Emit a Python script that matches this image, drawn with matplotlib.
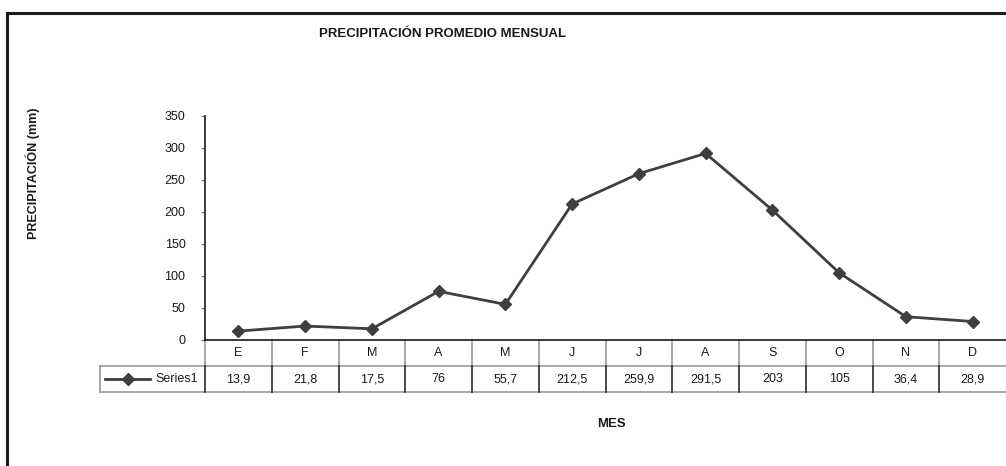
import matplotlib
matplotlib.use("Agg")
import matplotlib.pyplot as plt
from matplotlib.transforms import blended_transform_factory
from matplotlib.patches import Rectangle
from matplotlib.lines import Line2D

plt.rcParams['font.family'] = ['Liberation Sans', 'DejaVu Sans']

months = ["E", "F", "M", "A", "M", "J", "J", "A", "S", "O", "N", "D"]
values = [13.9, 21.8, 17.5, 76, 55.7, 212.5, 259.9, 291.5, 203, 105, 36.4, 28.9]
value_labels = ["13,9", "21,8", "17,5", "76", "55,7", "212,5", "259,9", "291,5", "203", "105", "36,4", "28,9"]
yticks = [0, 50, 100, 150, 200, 250, 300, 350]
series_name = "Series1"
title = "PRECIPITACIÓN PROMEDIO MENSUAL"
ylabel = "PRECIPITACIÓN (mm)"
xlabel = "MES"

W, H = 1006, 466
fig = plt.figure(figsize=(W / 100, H / 100), dpi=100)

# outer frame
fig.patches.append(Rectangle((7 / W, -0.1), 1.2, (H - 13) / H + 0.1, transform=fig.transFigure,
                             fill=False, edgecolor="#1a1a1a", linewidth=2.2))

ax_l, ax_r = 205 / W, 1006 / W
ax_b, ax_t = 1 - 340 / H, 1 - 116 / H
ax = fig.add_axes([ax_l, ax_b, ax_r - ax_l, ax_t - ax_b])
line_color = "#3f3f3f"
x = list(range(len(months)))
ax.plot(x, values, color=line_color, linewidth=2, marker="D", markersize=6.5,
        markerfacecolor=line_color, markeredgecolor=line_color, clip_on=False, zorder=5)
ax.set_xlim(-0.5, len(months) - 0.5)
ax.set_ylim(0, 350)
ax.set_yticks(yticks)
ax.set_yticklabels([str(v) for v in yticks], fontsize=9, color="#1a1a1a")
ax.tick_params(axis="y", length=3, width=1, color="#808080", pad=11)
ax.set_xticks([])
for s in ["top", "right"]:
    ax.spines[s].set_visible(False)
ax.spines["left"].set_color("#1a1a1a")
ax.spines["left"].set_linewidth(1.2)
ax.spines["bottom"].set_color("#1a1a1a")
ax.spines["bottom"].set_linewidth(1.2)

# data table below the axis
trans = blended_transform_factory(ax.transData, ax.transAxes)
axh_px = 340 - 116
row_h = 26 / axh_px
gray = "#9a9a9a"
dark = "#2a2a2a"
legend_left = (100 - 205) / (1006 - 205)  # axes fraction
ax.add_line(Line2D([legend_left, 1.0], [-row_h, -row_h], transform=ax.transAxes, color=gray, lw=1.2, clip_on=False))
ax.add_line(Line2D([legend_left, 1.0], [-2 * row_h, -2 * row_h], transform=ax.transAxes, color=gray, lw=1.2, clip_on=False))
ax.add_line(Line2D([legend_left, legend_left], [-row_h, -2 * row_h], transform=ax.transAxes, color=gray, lw=1.2, clip_on=False))
for i in range(len(months)):
    xe = i - 0.5
    ax.add_line(Line2D([xe, xe], [0, -row_h], transform=trans, color=gray, lw=1.2, clip_on=False))
    ax.add_line(Line2D([xe, xe], [-row_h, -2 * row_h], transform=trans, color=dark, lw=1.2, clip_on=False))
for i, (m, v) in enumerate(zip(months, value_labels)):
    ax.text(i, -row_h / 2, m, transform=trans, ha="center", va="center", fontsize=9, color="#1a1a1a")
    ax.text(i, -1.5 * row_h, v, transform=trans, ha="center", va="center", fontsize=9, color="#1a1a1a")

# legend key in table
lx0 = (105 - 205) / (1006 - 205)
lx1 = (150 - 205) / (1006 - 205)
ly = -1.5 * row_h
ax.add_line(Line2D([lx0, lx1], [ly, ly], transform=ax.transAxes, color=line_color, lw=2, clip_on=False))
ax.add_line(Line2D([(lx0 + lx1) / 2], [ly], transform=ax.transAxes, marker="D", markersize=6.5,
                   color=line_color, clip_on=False))
ax.text((155 - 205) / (1006 - 205), ly, series_name, transform=ax.transAxes, ha="left", va="center",
        fontsize=9, color="#1a1a1a")

fig.text(443 / W, 1 - 34 / H, title, ha="center", va="center", fontsize=9.5, fontweight="bold", color="#1a1a1a")
fig.text(33 / W, 1 - 173 / H, ylabel, ha="center", va="center", rotation=90, fontsize=9,
         fontweight="bold", color="#1a1a1a")
fig.text(611 / W, 1 - 424 / H, xlabel, ha="center", va="center", fontsize=9.5, fontweight="bold", color="#1a1a1a")

fig.savefig("out.png", dpi=100)
